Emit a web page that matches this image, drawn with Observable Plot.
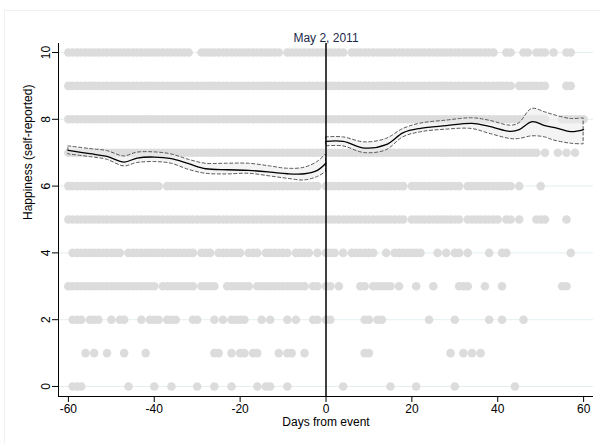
<!DOCTYPE html>
<html>
<head>
<meta charset="utf-8">
<script src="https://cdn.jsdelivr.net/npm/d3@7"></script>
<script src="https://cdn.jsdelivr.net/npm/@observablehq/plot@0.6"></script>
<style>
  html, body { margin: 0; padding: 0; background: #fff; }
  #chart { position: relative; width: 600px; height: 446px; overflow: hidden; }
  #chart .region { position: absolute; left: 4px; top: 10px; right: -2px; bottom: 2px;
    border-top: 1px solid #eef1f4; border-left: 1px solid #eef1f4; pointer-events: none; }
  #chart svg { position: absolute; left: 0; top: 0; }
</style>
</head>
<body>
<div id="chart"><div class="region"></div></div>
<script>
// Axis ticks and labels
const xTicks = [-60, -40, -20, 0, 20, 40, 60];
const yTicks = [0, 2, 4, 6, 8, 10];
const xTitle = "Days from event";
const yTitle = "Happiness (self-reported)";
const eventDay = 0;
const eventLabel = "May 2, 2011";

// Days (relative to the event) with at least one response, per happiness level,
// stored as runs of consecutive days [first, last]
const runs10 = [[-60,-32],[-29,-11],[-9,4],[6,39],[42,43],[46,47],[49,51],[53,53],[56,57]];
const runs9  = [[-60,43],[45,51],[56,57]];
const runs8  = [[-60,51],[55,60]];
const runs7  = [[-60,49],[51,51],[54,54],[56,56],[58,58]];
const runs6  = [[-60,-39],[-37,-2],[0,18],[20,31],[33,43],[45,45],[50,50]];
const runs5  = [[-60,18],[20,31],[33,40],[42,43],[45,45],[49,51],[56,56]];
const runs4  = [[-59,-48],[-46,-31],[-29,-27],[-25,-20],[-18,-16],[-14,-9],[-7,-4],[-2,-2],[0,2],[4,4],[6,11],[14,14],[16,22],[26,26],[28,28],[30,31],[33,33],[38,38],[41,42],[57,57]];
const runs3  = [[-60,-40],[-38,-31],[-29,-26],[-23,-18],[-16,-5],[-3,-2],[0,1],[3,3],[8,9],[11,15],[17,17],[21,21],[25,25],[31,33],[37,37],[41,41],[55,56]];
const runs2  = [[-59,-57],[-55,-53],[-50,-50],[-48,-47],[-43,-43],[-41,-39],[-37,-35],[-31,-30],[-26,-26],[-24,-24],[-22,-19],[-15,-15],[-13,-13],[-9,-9],[-7,-7],[-3,-2],[0,1],[9,10],[12,13],[24,24],[30,30],[38,38],[41,41],[46,46]];
const runs1  = [[-56,-56],[-54,-54],[-51,-51],[-47,-47],[-42,-42],[-26,-25],[-22,-22],[-20,-19],[-17,-16],[-11,-11],[-9,-8],[-5,-5],[9,10],[29,29],[32,32],[34,34],[36,36]];
const runs0  = [[-59,-57],[-46,-46],[-40,-40],[-36,-36],[-30,-30],[-26,-26],[-22,-22],[-16,-16],[-14,-13],[-9,-9],[4,4],[15,15],[21,21],[30,30],[44,44]];
const levels = [0, 1, 2, 3, 4, 5, 6, 7, 8, 9, 10];
const levelRuns = [runs0, runs1, runs2, runs3, runs4, runs5, runs6, runs7, runs8, runs9, runs10];

// Smoothed mean with 95% band, before the event
const preDays  = [-60, -55, -51, -47, -44, -40, -36, -32, -28, -23, -18, -13, -9, -5, -2, 0];
const preMean  = [7.07, 6.97, 6.89, 6.72, 6.84, 6.87, 6.82, 6.67, 6.52, 6.49, 6.47, 6.42, 6.37, 6.37, 6.47, 6.69];
const preLow   = [6.95, 6.87, 6.79, 6.59, 6.69, 6.72, 6.67, 6.49, 6.37, 6.35, 6.37, 6.29, 6.22, 6.17, 6.27, 6.42];
const preHigh  = [7.19, 7.11, 7.05, 6.89, 7.00, 7.01, 6.95, 6.79, 6.67, 6.67, 6.67, 6.59, 6.52, 6.55, 6.72, 6.95];

// ... and after the event
const postDays = [0, 4, 9, 14, 18, 22, 28, 34, 38, 43, 45, 48, 51, 53, 57, 60];
const postMean = [7.34, 7.34, 7.14, 7.24, 7.60, 7.73, 7.81, 7.88, 7.79, 7.64, 7.69, 7.93, 7.81, 7.76, 7.63, 7.69];
const postLow  = [7.19, 7.19, 6.99, 7.07, 7.46, 7.61, 7.69, 7.71, 7.57, 7.41, 7.41, 7.49, 7.46, 7.37, 7.27, 7.25];
const postHigh = [7.46, 7.46, 7.31, 7.41, 7.71, 7.87, 7.96, 8.03, 7.96, 7.81, 7.88, 8.31, 8.21, 8.13, 8.01, 8.03];

// Tables built from the arrays above
const points = levels.flatMap((level, i) =>
  levelRuns[i].flatMap(([a, b]) => d3.range(a, b + 1).map(day => ({day, level}))));
const pre = preDays.map((day, i) => ({day, mean: preMean[i], low: preLow[i], high: preHigh[i]}));
const post = postDays.map((day, i) => ({day, mean: postMean[i], low: postLow[i], high: postHigh[i]}));

const xDomain = [-62.3, 62.3];
const yDomain = [-0.3, 10.27];
const font = "'Liberation Sans', Arial, Helvetica, sans-serif";

const band = {x: "day", y1: "low", y2: "high", fill: "#ececec", fillOpacity: 0.6,
  stroke: "#555", strokeWidth: 1, strokeDasharray: "3,2.5", curve: "catmull-rom"};
const trend = {x: "day", y: "mean", stroke: "#000", strokeWidth: 1.3, curve: "catmull-rom"};

const chart = Plot.plot({
  width: 600,
  height: 446,
  marginLeft: 58,
  marginRight: 7,
  marginTop: 43,
  marginBottom: 50,
  x: {domain: xDomain},
  y: {domain: yDomain},
  style: {fontFamily: font, fontSize: "12px", color: "#000", background: "transparent"},
  marks: [
    Plot.ruleY(yTicks, {stroke: "#e3eef1", strokeWidth: 1}),
    Plot.dot(points, {x: "day", y: "level", r: 4.3, fill: "#dcdcdc"}),
    Plot.areaY(pre, band),
    Plot.areaY(post, band),
    Plot.line(pre, trend),
    Plot.line(post, trend),
    Plot.ruleX([eventDay], {stroke: "#000", strokeWidth: 1.5}),
    Plot.text([{day: eventDay, label: eventLabel}], {x: "day", text: "label", frameAnchor: "top", dy: -10, fill: "#1c2b4b"}),
    Plot.ruleX([xDomain[0]], {stroke: "#000"}),
    Plot.ruleY([yDomain[0]], {stroke: "#000"}),
    Plot.axisX(xTicks, {tickSize: 6, tickPadding: 2, tickFormat: d => String(d), label: null}),
    Plot.axisY(yTicks, {tickSize: 6, tickRotate: -90, tickFormat: d => String(d), label: null}),
    Plot.text([xTitle], {text: d => d, frameAnchor: "bottom", dy: 29}),
    Plot.text([yTitle], {text: d => d, frameAnchor: "left", dx: -30, rotate: -90})
  ]
});

document.getElementById("chart").appendChild(chart);
</script>
</body>
</html>
